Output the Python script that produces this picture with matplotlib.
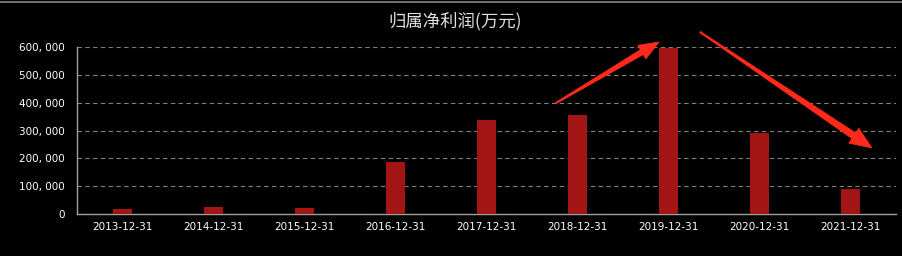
import matplotlib
matplotlib.use("Agg")
import matplotlib.pyplot as plt
import numpy as np
from matplotlib.ticker import FuncFormatter
from matplotlib.lines import Line2D
from matplotlib.patches import Polygon

categories = ["2013-12-31", "2014-12-31", "2015-12-31", "2016-12-31", "2017-12-31",
              "2018-12-31", "2019-12-31", "2020-12-31", "2021-12-31"]
values = [18000, 24000, 23000, 188000, 337000, 355000, 599000, 290000, 90000]
yticks = [0, 100000, 200000, 300000, 400000, 500000, 600000]
title = "归属净利润(万元)"

plt.rcParams['font.family'] = ['DejaVu Sans', 'Noto Sans CJK SC']

W, H = 903, 256
fig = plt.figure(figsize=(W / 100, H / 100), dpi=100, facecolor="black")
ax = fig.add_axes([77 / W, 42 / H, (896 - 77) / W, (214 - 47.3) / H])
ax.set_facecolor("black")

x = list(range(len(categories)))
ax.bar(x, values, width=0.21, color="#a31414", zorder=3)
ax.set_xlim(-0.5, len(categories) - 0.5)
ax.set_ylim(0, 600000)
ax.set_xticks(x)
ax.set_xticklabels(categories)
ax.set_yticks(yticks)
ax.yaxis.set_major_formatter(FuncFormatter(lambda v, p: f"{int(v):,}".replace(",", ", ")))
ax.tick_params(axis="both", colors="white", labelsize=7.5, length=0)
ax.tick_params(axis="x", pad=6)
ax.tick_params(axis="y", pad=9)
for s in ["top", "right"]:
    ax.spines[s].set_visible(False)
for s in ["left", "bottom"]:
    ax.spines[s].set_color("#a0a0a0")
    ax.spines[s].set_linewidth(1)
ax.grid(axis="y", color="#808080", linestyle=(0, (4, 3)), linewidth=0.8, zorder=0)
ax.set_axisbelow(True)

fig.text(455 / W, 1 - 21 / H, title, color="#e0e0e0", fontsize=12.5,
         family=['Noto Sans CJK SC', 'DejaVu Sans'], ha="center", va="center")

# top border line
fig.add_artist(Line2D([0, 1], [1 - 1.5 / H, 1 - 1.5 / H], transform=fig.transFigure,
                      color="#707070", linewidth=1.5))

# red tapered arrows (annotation), in figure pixel coordinates (y from top)
red = "#ff2a1a"


def tapered_arrow(start, tip, w0=0.6, w1=3.0, head_len=20, head_w=8):
    s = np.array([start[0], H - start[1]], float)
    t = np.array([tip[0], H - tip[1]], float)
    d = t - s
    L = np.hypot(*d)
    u = d / L
    n = np.array([-u[1], u[0]])
    b = t - u * head_len
    pts = [s + n * w0, b + n * w1, b + n * head_w, t, b - n * head_w, b - n * w1, s - n * w0]
    pts = [(p[0] / W, p[1] / H) for p in pts]
    fig.add_artist(Polygon(pts, closed=True, transform=fig.transFigure,
                           facecolor=red, edgecolor=red, linewidth=0.5))


tapered_arrow((556, 103), (659, 42), w0=0.7, w1=2.8, head_len=20, head_w=8)
tapered_arrow((700, 32), (872, 148), w0=0.7, w1=3.4, head_len=22, head_w=9)

fig.savefig("out.png", dpi=100, facecolor="black")
